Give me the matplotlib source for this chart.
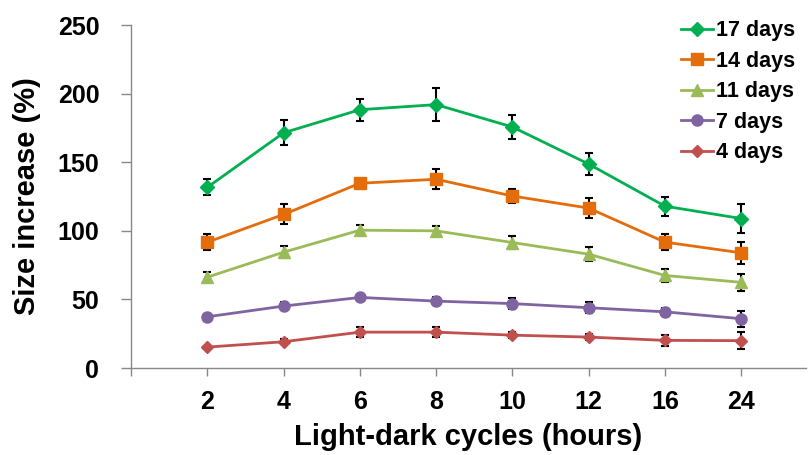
import numpy as np
import matplotlib.pyplot as plt

plt.rcParams['font.family'] = ['Liberation Sans', 'DejaVu Sans']
plt.rcParams['font.weight'] = 'bold'

cycles = ['2', '4', '6', '8', '10', '12', '16', '24']
labels = ['17 days', '14 days', '11 days', '7 days', '4 days']

d17 = [131.8, 171.5, 188.3, 192.0, 175.7, 148.7, 118.0, 109.0]
d14 = [91.8, 112.0, 134.7, 137.6, 125.4, 116.6, 91.8, 84.0]
d11 = [66.3, 84.5, 100.5, 100.0, 91.5, 83.0, 67.5, 62.5]
d7 = [37.4, 45.2, 51.5, 48.8, 47.0, 44.0, 41.0, 36.0]
d4 = [15.3, 19.2, 26.2, 26.2, 24.0, 22.6, 20.2, 20.0]

e17 = [5.8, 9.0, 8.0, 11.8, 8.7, 8.0, 7.0, 10.5]
e14 = [6.0, 7.3, 1.0, 7.3, 5.0, 7.0, 6.0, 8.0]
e11 = [3.9, 4.5, 3.8, 3.8, 5.0, 5.0, 5.0, 6.0]
e7 = [2.0, 3.0, 2.0, 3.0, 4.0, 4.0, 3.0, 5.8]
e4 = [1.0, 2.0, 3.5, 3.5, 2.0, 2.0, 4.0, 6.0]

colors = ['#00B050', '#E46C0A', '#9BBB59', '#8064A2', '#C0504D']
markers = ['D', 's', '^', 'o', 'D']
msizes = [7, 8, 8, 8, 6]

fig = plt.figure(figsize=(8.1, 4.55), dpi=100)
ax = fig.add_axes([0.162, 0.191, 0.833, 0.754])

x = np.arange(1, len(cycles) + 1)
series = [(d17, e17), (d14, e14), (d11, e11), (d7, e7), (d4, e4)]
for (y, e), lab, c, m, ms in zip(series, labels, colors, markers, msizes):
    ax.errorbar(x, y, yerr=e, fmt='none', ecolor='black', elinewidth=1.5,
                capsize=3, capthick=1.5, zorder=2)
    ax.plot(x, y, color=c, marker=m, markersize=ms, linewidth=2, label=lab, zorder=3)

ax.set_xlim(0, 8.85)
ax.set_ylim(0, 250)
ax.set_yticks(range(0, 251, 50))
ax.set_xticks(np.arange(0, len(cycles) + 1))
ax.set_xticklabels([''] + cycles)
ax.tick_params(axis='both', labelsize=18, color='#888888', width=1)
ax.tick_params(axis='x', length=6, pad=10)
ax.tick_params(axis='y', length=7, pad=16)
for lbl in ax.get_xticklabels() + ax.get_yticklabels():
    lbl.set_fontweight('bold')

for s in ['top', 'right']:
    ax.spines[s].set_visible(False)
for s in ['left', 'bottom']:
    ax.spines[s].set_color('#888888')
    ax.spines[s].set_linewidth(1)

ax.set_xlabel('Light-dark cycles (hours)', fontsize=21, fontweight='bold', labelpad=6)
ax.set_ylabel('Size increase (%)', fontsize=21, fontweight='bold', labelpad=12)

leg = ax.legend(loc='upper right', bbox_to_anchor=(1.012, 1.07), frameon=False,
                handlelength=1.5, handletextpad=0.1, labelspacing=0.44,
                prop={'weight': 'bold', 'size': 15.5})

fig.savefig('out.png', dpi=100)
